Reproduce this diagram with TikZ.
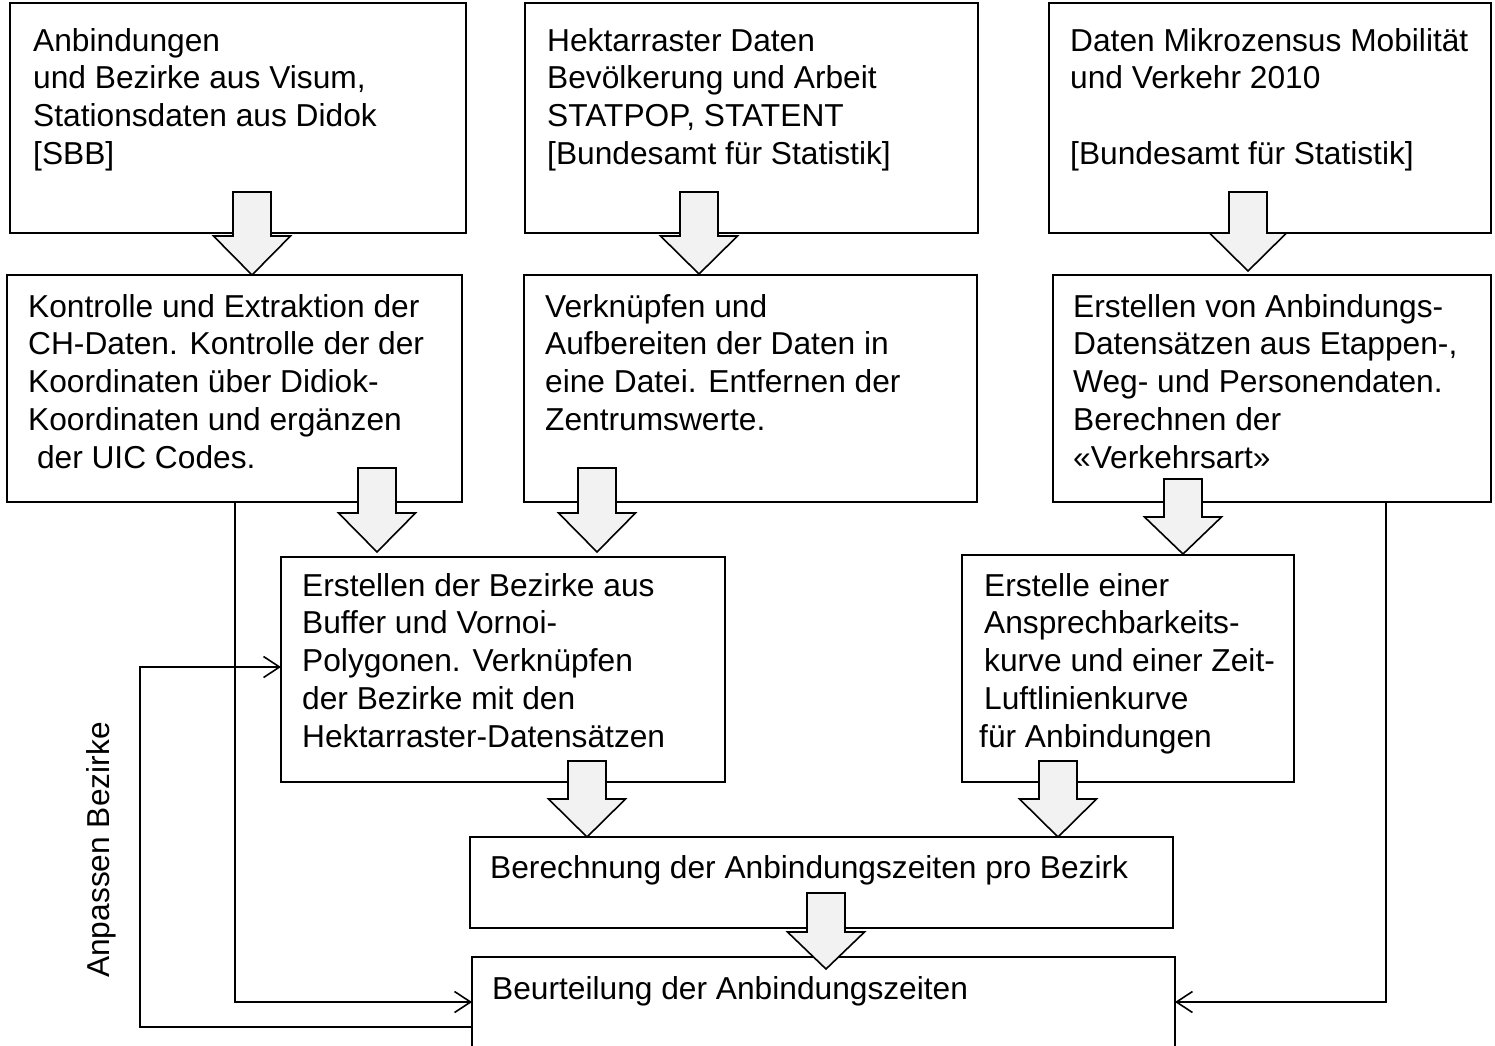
\documentclass[tikz,border=0pt]{standalone}
\usepackage{fontspec}
\setmainfont{Liberation Sans}
\usetikzlibrary{arrows.meta,calc}
\tikzset{
  box/.style={draw=black, line width=1.8pt, rectangle, inner sep=0pt, outer sep=0pt, anchor=north west},
  txt/.style={anchor=base west, inner sep=0pt, align=left, font=\fontsize{31.7}{37.8}\selectfont},
  conn/.style={draw=black, line width=1.6pt},
  tipped/.style={-{Straight Barb[length=16pt,width=21pt,line width=1.6pt]}},
  blockarrow/.style={draw=black, fill=gray!10, line width=1.6pt, line join=miter}
}
\newcommand{\barrowdraw}[4]{%
  \path[blockarrow] (#1-19,#2) -- (#1+19,#2) -- (#1+19,#3) -- (#1+38.5,#3) -- (#1,#4) -- (#1-38.5,#3) -- (#1-19,#3) -- cycle;}
\begin{document}
\begin{tikzpicture}[x=1pt,y=-1pt]
\useasboundingbox (0,0) rectangle (1495,1045);
% boxes
\node[box, minimum width=456pt, minimum height=230pt] (A) at (10,3) {};
\node[box, minimum width=453pt, minimum height=230pt] (B) at (525,3) {};
\node[box, minimum width=442pt, minimum height=230pt] (C) at (1049,3) {};
\node[box, minimum width=455pt, minimum height=227pt] (D) at (7,275) {};
\node[box, minimum width=453pt, minimum height=227pt] (E) at (524,275) {};
\node[box, minimum width=438pt, minimum height=227pt] (F) at (1053,275) {};
\node[box, minimum width=444pt, minimum height=225pt] (G) at (281,557) {};
\node[box, minimum width=332pt, minimum height=227pt] (H) at (962,555) {};
\node[box, minimum width=703pt, minimum height=91pt] (I) at (470,837) {};
\node[box, minimum width=703pt, minimum height=110pt] (J) at (472,957) {};
% texts (base anchor = baseline of last line)
\node[txt] (At) at (33,164.4) {Anbindungen\\und Bezirke aus Visum,\\Stationsdaten aus Didok\\{[SBB]}};
\node[txt] (Bt) at (547,164.4) {Hektarraster Daten\\Bevölkerung und Arbeit\\STATPOP, STATENT\\{[Bundesamt für Statistik]}};
\node[txt] (Ct) at (1070,164.4) {Daten Mikrozensus Mobilität\\und Verkehr 2010\\~\\{[Bundesamt für Statistik]}};
\node[txt] (Dt) at (28,468.2) {Kontrolle und Extraktion der\\CH-Daten. Kontrolle der der\\Koordinaten über Didiok-\\Koordinaten und ergänzen\\~der UIC Codes.};
\node[txt] (Et) at (545,430.4) {Verknüpfen und\\Aufbereiten der Daten in\\eine Datei. Entfernen der\\Zentrumswerte.};
\node[txt] (Ft) at (1073,468.2) {Erstellen von Anbindungs-\\Datensätzen aus Etappen-,\\Weg- und Personendaten.\\Berechnen der\\«Verkehrsart»};
\node[txt] (Gt) at (302,747.2) {Erstellen der Bezirke aus\\Buffer und Vornoi-\\Polygonen. Verknüpfen\\der Bezirke mit den\\Hektarraster-Datensätzen};
\node[txt] (Ht) at (984,747.2) {Erstelle einer\\Ansprechbarkeits-\\kurve und einer Zeit-\\Luftlinienkurve\\\hspace*{-5pt}für Anbindungen};
\node[txt] (It) at (490,878) {Berechnung der Anbindungszeiten pro Bezirk};
\node[txt] (Jt) at (492,999) {Beurteilung der Anbindungszeiten};
\node[font=\fontsize{31.7}{37.8}\selectfont, rotate=90, inner sep=0pt] (lbl) at (101,850) {Anpassen Bezirke};
% helper coordinates
\coordinate (xl) at (235,0);
\coordinate (xr) at (1386,0);
\coordinate (xf) at (140,0);
\coordinate (ya) at (0,1002);
\coordinate (yb) at (0,1027);
\coordinate (yc) at (0,667);
% connectors
\draw[conn,tipped] (D.south -| xl) |- (J.west |- ya);
\draw[conn,tipped] (F.south -| xr) |- (J.east |- ya);
\draw[conn,tipped] (J.west |- yb) -| (xf |- yc) -- (G.west |- yc);
% block arrows
\barrowdraw{252}{192}{236}{275}
\barrowdraw{699}{192}{236}{274}
\barrowdraw{1248}{192}{233}{271}
\barrowdraw{377}{468}{513}{552}
\barrowdraw{597}{468}{513}{552}
\barrowdraw{1183}{479}{517}{554}
\barrowdraw{587}{761}{799}{837}
\barrowdraw{1058}{761}{799}{837}
\barrowdraw{826}{893}{932}{969}
\end{tikzpicture}
\end{document}
